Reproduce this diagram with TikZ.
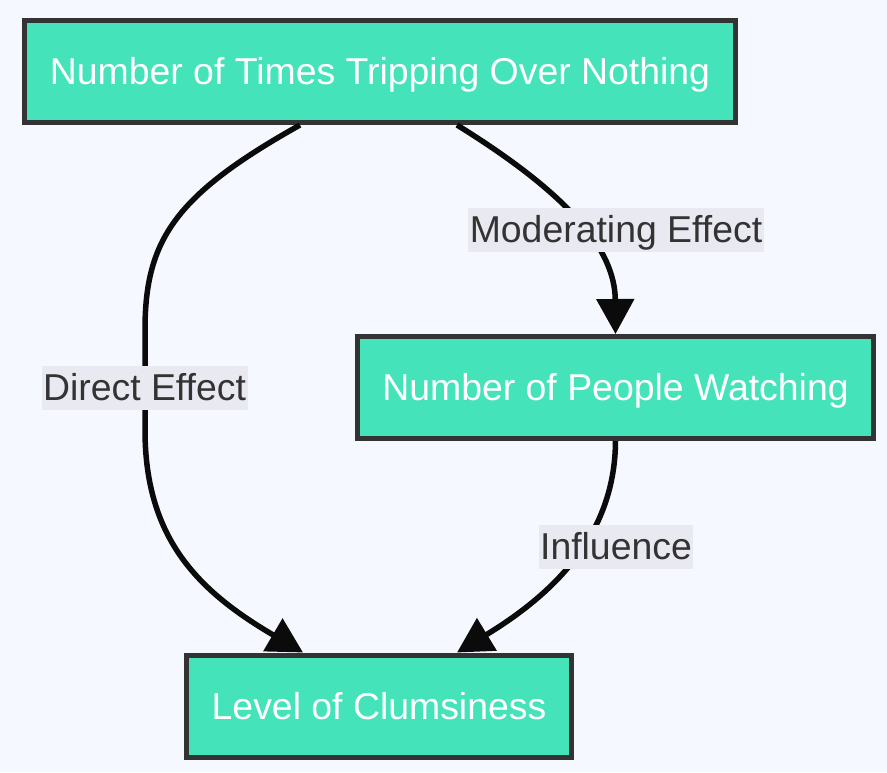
\documentclass[tikz,border=0pt]{standalone}
\usepackage{fontspec}
\setmainfont{Liberation Sans}
\usetikzlibrary{arrows.meta}
\definecolor{bg}{HTML}{F5F8FF}
\definecolor{nodefill}{HTML}{44E3BA}
\definecolor{nodeborder}{HTML}{333333}
\definecolor{labelbg}{HTML}{E9E9F1}
\definecolor{labeltext}{HTML}{333333}
\definecolor{edgecol}{HTML}{0B0B0B}
\tikzset{
  box/.style={draw=nodeborder, line width=5pt, fill=nodefill, text=white,
    font=\fontsize{37.4}{44}\selectfont, inner xsep=25pt, inner ysep=0pt,
    text height=30pt, text depth=4pt, minimum height=102pt},
  elabel/.style={fill=labelbg, text=labeltext, font=\fontsize{37.4}{44}\selectfont,
    inner xsep=1.5pt, inner ysep=4pt, text height=30pt, text depth=6pt},
  edgeline/.style={draw=edgecol, line width=5.5pt, -{Triangle[length=35pt,width=37pt]}}
}
\begin{document}
\begin{tikzpicture}[x=1pt,y=-1pt]
  \fill[bg] (0,0) rectangle (887,772);
  \useasboundingbox (0,0) rectangle (887,772);

  \node[box] (t) at (380,71.5) {Number of Times Tripping Over Nothing};
  \node[box] (m) at (615.5,387.5) {Number of People Watching};
  \node[box] (c) at (379,706) {Level of Clumsiness};

  \draw[edgeline] ([xshift=-80pt]t.south) .. controls (175,195) and (145,240) .. (145,330)
     -- (145,430) .. controls (145,540) and (200,592) .. ([xshift=-76pt]c.north);
  \draw[edgeline] ([xshift=77pt]t.south) .. controls (570,195) and (615,250) .. (m.north);
  \draw[edgeline] (m.south) .. controls (615,530) and (560,590) .. ([xshift=78pt]c.north);

  \node[elabel] (l1) at (144.5,388) {Direct Effect};
  \node[elabel] (l2) at (616,230) {Moderating Effect};
  \node[elabel] (l3) at (616,547) {Influence};
\end{tikzpicture}
\end{document}
